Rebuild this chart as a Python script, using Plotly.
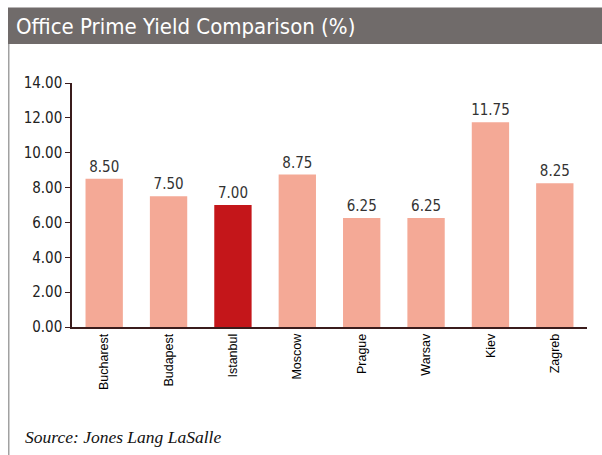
import plotly.graph_objects as go

# Office prime yields by city (%)
cities = ["Bucharest", "Budapest", "Istanbul", "Moscow", "Prague", "Warsav", "Kiev", "Zagreb"]
yields = [8.50, 7.50, 7.00, 8.75, 6.25, 6.25, 11.75, 8.25]
highlight = "Istanbul"
y_ticks = [0, 2, 4, 6, 8, 10, 12, 14]

W, H = 602, 455
L, R, T, B = 72, 15, 83, 128
PW, PH = W - L - R, H - T - B

NARROW = "Liberation Sans Narrow, Arial Narrow, DejaVu Sans Condensed, sans-serif"
SALMON = "#f4a996"
RED = "#c4161a"


def px_x(x):
    return (x - L) / PW


def px_y(y):
    return (H - B - y) / PH


colors = [RED if c == highlight else SALMON for c in cities]

fig = go.Figure(
    go.Bar(
        x=cities,
        y=yields,
        marker=dict(color=colors, line=dict(width=0)),
        text=[f"{v:.2f}" for v in yields],
        textposition="outside",
        constraintext="none",
        textfont=dict(family=NARROW, size=15, color="#333333"),
        cliponaxis=False,
    )
)

fig.update_layout(
    width=W,
    height=H,
    margin=dict(l=L, r=R, t=T, b=B),
    paper_bgcolor="white",
    plot_bgcolor="white",
    bargap=0.42,
    showlegend=False,
    xaxis=dict(
        showline=True,
        linecolor="#3a1c1c",
        linewidth=1.5,
        ticks="",
        tickangle=-90,
        tickfont=dict(family="Liberation Sans, Arial, sans-serif", size=12.5, color="#000000"),
        showgrid=False,
        zeroline=False,
    ),
    yaxis=dict(
        range=[0, 14],
        tickvals=y_ticks,
        ticktext=[f"{v:.2f}" for v in y_ticks],
        showline=True,
        linecolor="#3a1c1c",
        linewidth=1.5,
        ticks="outside",
        ticklen=5,
        tickcolor="#3a1c1c",
        tickfont=dict(family=NARROW, size=15, color="#222222"),
        showgrid=False,
        zeroline=False,
    ),
    shapes=[
        # header band
        dict(type="rect", xref="paper", yref="paper",
             x0=px_x(8), x1=px_x(W + 2), y0=px_y(44), y1=px_y(7.5),
             fillcolor="#706b6a", line=dict(width=0), layer="below"),
        # left frame line
        dict(type="line", xref="paper", yref="paper",
             x0=px_x(8.8), x1=px_x(8.8), y0=px_y(44), y1=px_y(H + 2),
             line=dict(color="#8a8a8a", width=1.2)),
    ],
    annotations=[
        dict(text="Office Prime Yield Comparison (%)", xref="paper", yref="paper",
             x=px_x(14), y=px_y(26.5), xanchor="left", yanchor="middle",
             showarrow=False, font=dict(family=NARROW, size=22, color="white")),
        dict(text="<i>Source: Jones Lang LaSalle</i>", xref="paper", yref="paper",
             x=px_x(23), y=px_y(437), xanchor="left", yanchor="middle",
             showarrow=False,
             font=dict(family="Liberation Serif, Times New Roman, serif", size=17.5, color="#111111")),
    ],
)

fig.write_html("out.html")
